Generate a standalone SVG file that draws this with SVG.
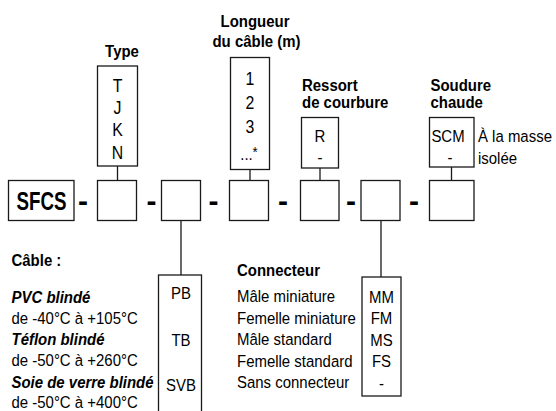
<svg xmlns="http://www.w3.org/2000/svg" width="556" height="411" viewBox="0 0 556 411">
<style>
.b{fill:#fff;stroke:#1a1a1a;stroke-width:1.3}
.c{stroke:#1a1a1a;stroke-width:1.3;fill:none}
text{font-family:"Liberation Sans",Arial,sans-serif;fill:#000;font-size:17px}
.h{font-weight:bold}
.m{text-anchor:middle}
.v{font-size:18px}
.d{font-size:30px;font-weight:bold;text-anchor:middle}
.bi{font-weight:bold;font-style:italic}
</style>
<rect width="556" height="411" fill="#fff"/>
<g id="connectors">
<line class="c" x1="117.5" y1="166" x2="117.5" y2="180.5"/>
<line class="c" x1="250" y1="169.5" x2="250" y2="180.5"/>
<line class="c" x1="320" y1="168" x2="320" y2="180.5"/>
<line class="c" x1="451.5" y1="167" x2="451.5" y2="180.5"/>
<line class="c" x1="181" y1="220.5" x2="181" y2="275"/>
<line class="c" x1="381" y1="220.5" x2="381" y2="277"/>
</g>
<g id="sfcs">
<rect class="b" x="8.5" y="180.5" width="65.5" height="40"/>
<text class="h m" style="font-size:25.5px" transform="translate(41.5 210) scale(.735 1)">SFCS</text>
</g>
<g id="dashes">
<text class="d" x="83" y="211">-</text>
<text class="d" x="151.5" y="211">-</text>
<text class="d" x="213.5" y="211">-</text>
<text class="d" x="283" y="211">-</text>
<text class="d" x="351" y="210.5">-</text>
<text class="d" x="414" y="211">-</text>
</g>
<g id="slot1"><rect class="b" x="97.5" y="180.5" width="39" height="40"/></g>
<g id="slot2"><rect class="b" x="161.5" y="180.5" width="39" height="40"/></g>
<g id="slot3"><rect class="b" x="229.5" y="180.5" width="39" height="40"/></g>
<g id="slot4"><rect class="b" x="300.5" y="180.5" width="38.5" height="40"/></g>
<g id="slot5"><rect class="b" x="361" y="180.5" width="39" height="40"/></g>
<g id="slot6"><rect class="b" x="429.5" y="180.5" width="44.5" height="40"/></g>
<g id="type">
<text class="h m" transform="translate(122 57) scale(.88 1)">Type</text>
<rect class="b" x="97.5" y="66" width="40" height="100"/>
<text class="m v" transform="translate(117.5 91.5) scale(.88 1)">T</text>
<text class="m v" transform="translate(117.5 113.5) scale(.88 1)">J</text>
<text class="m v" transform="translate(117.5 136) scale(.88 1)">K</text>
<text class="m v" transform="translate(117.5 158.5) scale(.88 1)">N</text>
</g>
<g id="longueur">
<text class="h m" transform="translate(255 27) scale(.88 1)">Longueur</text>
<text class="h m" transform="translate(256.5 47) scale(.88 1)">du câble (m)</text>
<rect class="b" x="230.5" y="57.5" width="39" height="112"/>
<text class="m v" transform="translate(250 85) scale(.88 1)">1</text>
<text class="m v" transform="translate(250 109) scale(.88 1)">2</text>
<text class="m v" transform="translate(250 133) scale(.88 1)">3</text>
<text class="m" transform="translate(246.5 160) scale(.88 1)">...</text>
<text class="m" style="font-size:15px" transform="translate(255 157) scale(.88 1)">*</text>
</g>
<g id="ressort">
<text class="h" transform="translate(302 91) scale(.88 1)">Ressort</text>
<text class="h" transform="translate(302 108) scale(.88 1)">de courbure</text>
<rect class="b" x="301.5" y="117.5" width="37" height="50.5"/>
<text class="m" transform="translate(320 142) scale(.88 1)">R</text>
<text class="m" transform="translate(320 163) scale(.88 1)">-</text>
</g>
<g id="soudure">
<text class="h" transform="translate(430.5 91) scale(.88 1)">Soudure</text>
<text class="h" transform="translate(430.5 108) scale(.88 1)">chaude</text>
<rect class="b" x="429.5" y="117.5" width="44.5" height="49.5"/>
<text class="m" transform="translate(448 142) scale(.88 1)">SCM</text>
<text class="m" transform="translate(450 163) scale(.88 1)">-</text>
<text transform="translate(478 142) scale(.88 1)">À la masse</text>
<text transform="translate(478 164) scale(.88 1)">isolée</text>
</g>
<g id="cable">
<text class="h" transform="translate(11.5 266) scale(.88 1)">Câble :</text>
<text class="bi" transform="translate(11.5 303) scale(.88 1)">PVC blindé</text>
<text transform="translate(11.5 323.5) scale(.88 1)">de -40°C à +105°C</text>
<text class="bi" transform="translate(11.5 345) scale(.88 1)">Téflon blindé</text>
<text transform="translate(11.5 365.5) scale(.88 1)">de -50°C à +260°C</text>
<text class="bi" transform="translate(11.5 387.5) scale(.88 1)">Soie de verre blindé</text>
<text transform="translate(11.5 408) scale(.88 1)">de -50°C à +400°C</text>
<rect class="b" x="158.5" y="275" width="43" height="150"/>
<text class="m" transform="translate(181 299) scale(.88 1)">PB</text>
<text class="m" transform="translate(181 346) scale(.88 1)">TB</text>
<text class="m" transform="translate(181 391) scale(.88 1)">SVB</text>
</g>
<g id="connecteur">
<text class="h" transform="translate(237 276) scale(.88 1)">Connecteur</text>
<text transform="translate(237 302) scale(.88 1)">Mâle miniature</text>
<text transform="translate(237 323.5) scale(.88 1)">Femelle miniature</text>
<text transform="translate(237 345) scale(.88 1)">Mâle standard</text>
<text transform="translate(237 367) scale(.88 1)">Femelle standard</text>
<text transform="translate(237 388) scale(.88 1)">Sans connecteur</text>
<rect class="b" x="362" y="277" width="39" height="119"/>
<text class="m" transform="translate(381.5 302.5) scale(.88 1)">MM</text>
<text class="m" transform="translate(381.5 324) scale(.88 1)">FM</text>
<text class="m" transform="translate(381.5 345.5) scale(.88 1)">MS</text>
<text class="m" transform="translate(381.5 367) scale(.88 1)">FS</text>
<text class="m" transform="translate(381.5 388.5) scale(.88 1)">-</text>
</g>
</svg>
